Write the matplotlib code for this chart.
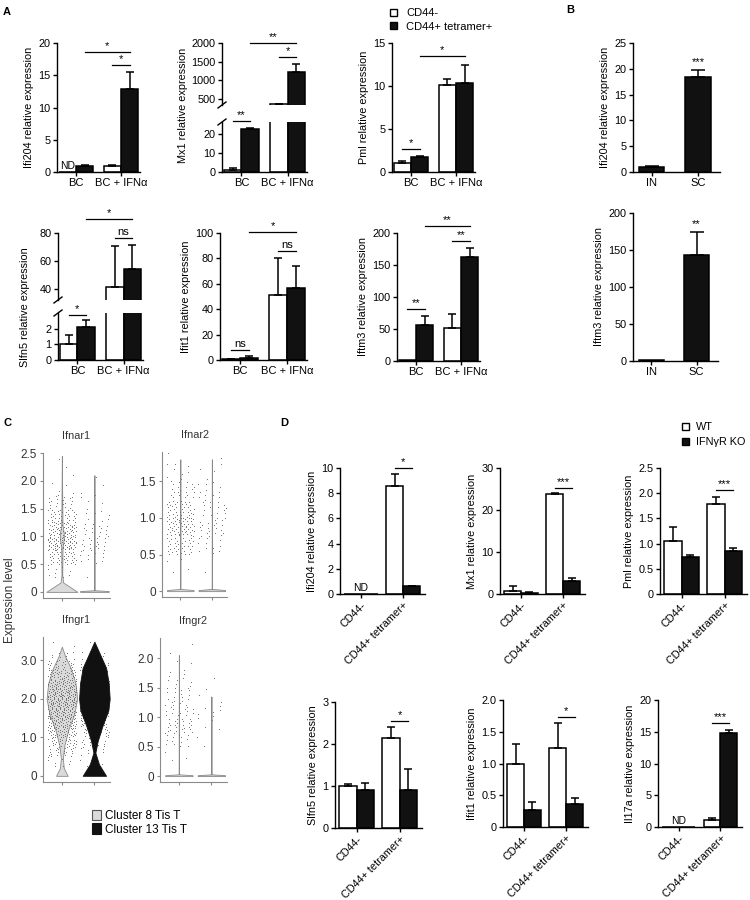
import numpy as np
import matplotlib
matplotlib.use("Agg")
import matplotlib.pyplot as plt
from matplotlib.patches import Patch

plt.rcParams["font.family"] = ["Liberation Sans", "DejaVu Sans"]
plt.rcParams["axes.linewidth"] = 1.0

# ---------------- data ----------------
# panel A: open = CD44-, filled = CD44+ tetramer+
a_groups = ["BC", "BC + IFNα"]

a_ifi204_open = [0.0, 1.0]
a_ifi204_open_err = [0.0, 0.1]
a_ifi204_fill = [1.0, 12.8]
a_ifi204_fill_err = [0.1, 2.7]

a_mx1_open = [0.8, 360.0]
a_mx1_open_err = [1.2, 10.0]
a_mx1_fill = [22.5, 1220.0]
a_mx1_fill_err = [0.3, 220.0]

a_pml_open = [1.0, 10.1]
a_pml_open_err = [0.3, 0.7]
a_pml_fill = [1.7, 10.3]
a_pml_fill_err = [0.2, 2.2]

a_slfn5_open = [1.0, 41.0]
a_slfn5_open_err = [0.6, 30.0]
a_slfn5_fill = [2.1, 54.0]
a_slfn5_fill_err = [0.45, 17.5]

a_ifit1_open = [0.5, 51.0]
a_ifit1_open_err = [0.5, 29.0]
a_ifit1_fill = [1.5, 57.0]
a_ifit1_fill_err = [2.0, 17.0]

a_iftm3_open = [1.0, 52.0]
a_iftm3_open_err = [0.0, 22.0]
a_iftm3_fill = [57.0, 163.0]
a_iftm3_fill_err = [13.0, 14.0]

# significance: (group, series), (group, series), y, label
a_ifi204_sig = [((1, 0), (1, 1), 16.6, "*"), ((0, 1), (1, 1), 18.6, "*")]
a_mx1_sig_low = [((0, 0), (0, 1), 26.5, "**")]
a_mx1_sig_up = [((1, 0), (1, 1), 1625, "*"), ((0, 1), (1, 1), 2010, "**")]
a_pml_sig = [((0, 0), (0, 1), 2.7, "*"), ((0, 1), (1, 1), 13.5, "*")]
a_slfn5_sig_low = [((0, 0), (0, 1), 2.9, "*")]
a_slfn5_sig_up = [((1, 0), (1, 1), 76.4, "ns"), ((0, 1), (1, 1), 90.0, "*")]
a_ifit1_sig = [((0, 0), (0, 1), 7.9, "ns"), ((1, 0), (1, 1), 86.0, "ns"),
               ((0, 1), (1, 1), 101.0, "*")]
a_iftm3_sig = [((0, 0), (0, 1), 81.0, "**"), ((1, 0), (1, 1), 187.5, "**"),
               ((0, 1), (1, 1), 211.0, "**")]

# panel B
b_groups = ["IN", "SC"]
b_ifi204 = [1.0, 18.5]
b_ifi204_err = [0.2, 1.3]
b_iftm3 = [2.0, 143.0]
b_iftm3_err = [0.0, 31.0]
b_ifi204_star = (1, 20.3, "***")
b_iftm3_star = (1, 178.0, "**")

# panel C: violin outlines (expression level, half width) and dot counts per 0.25 bin from 0.25
c_ifnar1_c8_lv = [0, 0.17, 0.3, 0.8, 0.95, 1.05, 1.2, 1.7, 2.45]
c_ifnar1_c8_hw = [0.48, 0.04, 0.012, 0.02, 0.06, 0.06, 0.02, 0.01, 0.0]
c_ifnar1_c13_lv = [0, 0.015, 0.03, 2.1]
c_ifnar1_c13_hw = [0.44, 0.44, 0.006, 0.0]
c_ifnar2_c8_lv = [0, 0.015, 0.03, 1.8]
c_ifnar2_c8_hw = [0.42, 0.42, 0.006, 0.0]
c_ifnar2_c13_lv = [0, 0.015, 0.03, 1.8]
c_ifnar2_c13_hw = [0.42, 0.42, 0.006, 0.0]
c_ifngr1_c8_lv = [0, 0.2, 0.45, 0.8, 1.2, 1.6, 2.0, 2.4, 2.8, 3.1, 3.35]
c_ifngr1_c8_hw = [0.18, 0.06, 0.03, 0.08, 0.2, 0.38, 0.47, 0.42, 0.27, 0.1, 0.0]
c_ifngr1_c13_lv = [0, 0.3, 0.6, 0.9, 1.3, 1.7, 2.0, 2.4, 2.8, 3.1, 3.48]
c_ifngr1_c13_hw = [0.36, 0.14, 0.03, 0.1, 0.25, 0.43, 0.47, 0.44, 0.36, 0.2, 0.0]
c_ifngr2_c8_lv = [0, 0.015, 0.03, 2.05]
c_ifngr2_c8_hw = [0.42, 0.42, 0.006, 0.0]
c_ifngr2_c13_lv = [0, 0.015, 0.03, 1.35]
c_ifngr2_c13_hw = [0.42, 0.42, 0.006, 0.0]

c_ifnar1_c8_n = [10, 40, 70, 55, 35, 20, 4, 2, 1]
c_ifnar1_c13_n = [1, 10, 18, 15, 10, 4, 2, 1, 0]
c_ifnar2_c8_n = [4, 35, 55, 40, 22, 8, 1]
c_ifnar2_c13_n = [1, 12, 20, 18, 12, 4, 1]
c_ifngr1_c8_n = [8, 20, 32, 45, 55, 65, 70, 68, 58, 42, 25, 10, 2]
c_ifngr1_c13_n = [3, 8, 15, 25, 35, 45, 50, 48, 40, 30, 18, 8, 2]
c_ifngr2_c8_n = [3, 15, 25, 20, 15, 8, 4, 2]
c_ifngr2_c13_n = [0, 2, 4, 6, 3, 1, 0, 0]

# panel D: open = WT, filled = IFNγR KO
d_groups = ["CD44-", "CD44+ tetramer+"]
d_ifi204_wt = [0.0, 8.6]
d_ifi204_wt_err = [0.0, 0.9]
d_ifi204_ko = [0.0, 0.6]
d_ifi204_ko_err = [0.0, 0.05]
d_mx1_wt = [0.8, 23.8]
d_mx1_wt_err = [1.2, 0.15]
d_mx1_ko = [0.3, 3.2]
d_mx1_ko_err = [0.2, 0.5]
d_pml_wt = [1.05, 1.78]
d_pml_wt_err = [0.28, 0.15]
d_pml_ko = [0.73, 0.86]
d_pml_ko_err = [0.05, 0.05]
d_slfn5_wt = [1.0, 2.15]
d_slfn5_wt_err = [0.04, 0.26]
d_slfn5_ko = [0.9, 0.9]
d_slfn5_ko_err = [0.18, 0.5]
d_ifit1_wt = [1.0, 1.25]
d_ifit1_wt_err = [0.31, 0.38]
d_ifit1_ko = [0.27, 0.36]
d_ifit1_ko_err = [0.13, 0.09]
d_il17a_wt = [0.0, 1.1]
d_il17a_wt_err = [0.0, 0.3]
d_il17a_ko = [0.0, 14.8]
d_il17a_ko_err = [0.0, 0.5]

d_ifi204_sig = [((1, 0), (1, 1), 10.0, "*")]
d_mx1_sig = [((1, 0), (1, 1), 25.2, "***")]
d_pml_sig = [((1, 0), (1, 1), 2.06, "***")]
d_slfn5_sig = [((1, 0), (1, 1), 2.55, "*")]
d_ifit1_sig = [((1, 0), (1, 1), 1.73, "*")]
d_il17a_sig = [((1, 0), (1, 1), 16.4, "***")]

# ---------------- helpers ----------------
W, H = 750, 900
fig = plt.figure(figsize=(7.5, 9), dpi=100)
BLACK = "#111111"
YLAB = 7.8


def rect(x0, y0, x1, y1):
    return [x0 / W, 1 - y1 / H, (x1 - x0) / W, (y1 - y0) / H]


def style(ax, ylim, yticks, ylabel=None, lsize=7.8):
    for s in ["top", "right"]:
        ax.spines[s].set_visible(False)
    ax.set_ylim(*ylim)
    ax.set_yticks(yticks)
    ax.tick_params(direction="out", length=3, width=1.0, labelsize=lsize, pad=1.5)
    if ylabel:
        ax.set_ylabel(ylabel, fontsize=YLAB, labelpad=3)


def xpos(g, s, w):
    if s is None:
        return g
    return g + (s - 0.5) * w


def bars2(ax, v_open, e_open, v_fill, e_fill, w):
    pos = np.arange(len(v_open))
    for s, (v, e, fc) in enumerate([(v_open, e_open, "white"), (v_fill, e_fill, BLACK)]):
        x = pos + (s - 0.5) * w
        v = np.asarray(v, float)
        e = np.asarray(e, float)
        ax.bar(x, v, w, color=fc, edgecolor="black", linewidth=1.1, zorder=2)
        m = e > 0
        if m.any():
            ax.errorbar(x[m], v[m], yerr=[np.zeros(m.sum()), e[m]], fmt="none",
                        ecolor="black", elinewidth=1.1, capsize=3, capthick=1.1, zorder=3)


def bars1(ax, v, e, w):
    pos = np.arange(len(v))
    v = np.asarray(v, float)
    e = np.asarray(e, float)
    ax.bar(pos, v, w, color=BLACK, edgecolor="black", linewidth=1.1, zorder=2)
    m = e > 0
    ax.errorbar(pos[m], v[m], yerr=[np.zeros(m.sum()), e[m]], fmt="none",
                ecolor="black", elinewidth=1.1, capsize=5, capthick=1.1, zorder=3)


def sig(ax, items, w):
    for a, b, y, lab in items:
        x1, x2 = xpos(a[0], a[1], w), xpos(b[0], b[1], w)
        ax.plot([x1, x2], [y, y], color="black", lw=0.9, clip_on=False)
        ax.annotate(lab, ((x1 + x2) / 2, y), xytext=(0, 0.5), textcoords="offset points",
                    ha="center", va="bottom", fontsize=8, annotation_clip=False)


def nd(ax, x, y=0):
    ax.annotate("ND", (x, y), xytext=(0, 1), textcoords="offset points",
                ha="center", va="bottom", fontsize=7.5)


def breakmark(ax, where):
    bb = ax.get_position()
    dx = 4 / (bb.width * W)
    dy = 3 / (bb.height * H)
    y0 = 0 if where == "bottom" else 1
    ax.plot([-dx, dx], [y0 - dy, y0 + dy], transform=ax.transAxes, color="black",
            lw=1.0, clip_on=False)


# ---------------- panel A ----------------
wa = 0.38
xla = (-0.42, 1.42)

ax = fig.add_axes(rect(57, 43, 140, 172))
bars2(ax, a_ifi204_open, a_ifi204_open_err, a_ifi204_fill, a_ifi204_fill_err, wa)
style(ax, (0, 20), [0, 5, 10, 15, 20], "Ifi204 relative expression")
ax.set_xlim(*xla)
ax.set_xticks(range(2), a_groups, fontsize=8)
sig(ax, a_ifi204_sig, wa)
nd(ax, xpos(0, 0, wa))

# Mx1 broken axis
axu = fig.add_axes(rect(222, 43, 307, 105))
axl = fig.add_axes(rect(222, 122, 307, 172))
for a_ in (axu, axl):
    bars2(a_, a_mx1_open, a_mx1_open_err, a_mx1_fill, a_mx1_fill_err, wa)
    a_.set_xlim(*xla)
style(axu, (330, 2000), [500, 1000, 1500, 2000])
style(axl, (0, 26), [0, 10, 20])
axu.spines["bottom"].set_visible(False)
axu.set_xticks([])
axl.set_xticks(range(2), a_groups, fontsize=8)
axu.set_ylabel("Mx1 relative expression", fontsize=YLAB)
axu.yaxis.set_label_coords(-0.4, 0.0)
breakmark(axu, "bottom")
breakmark(axl, "top")
sig(axl, a_mx1_sig_low, wa)
sig(axu, a_mx1_sig_up, wa)

ax = fig.add_axes(rect(392, 43, 475, 172))
bars2(ax, a_pml_open, a_pml_open_err, a_pml_fill, a_pml_fill_err, wa)
style(ax, (0, 15), [0, 5, 10, 15], "Pml relative expression")
ax.set_xlim(*xla)
ax.set_xticks(range(2), a_groups, fontsize=8)
sig(ax, a_pml_sig, wa)

# Slfn5 broken axis
axu = fig.add_axes(rect(58, 233, 143, 300))
axl = fig.add_axes(rect(58, 313, 143, 360))
for a_ in (axu, axl):
    bars2(a_, a_slfn5_open, a_slfn5_open_err, a_slfn5_fill, a_slfn5_fill_err, wa)
    a_.set_xlim(*xla)
style(axu, (32, 80), [40, 60, 80])
style(axl, (0, 3.0), [0, 1, 2])
axu.spines["bottom"].set_visible(False)
axu.set_xticks([])
axl.set_xticks(range(2), a_groups, fontsize=8)
axu.set_ylabel("Slfn5 relative expression", fontsize=YLAB)
axu.yaxis.set_label_coords(-0.33, -0.1)
breakmark(axu, "bottom")
breakmark(axl, "top")
sig(axl, a_slfn5_sig_low, wa)
sig(axu, a_slfn5_sig_up, wa)

ax = fig.add_axes(rect(220, 233, 307, 360))
bars2(ax, a_ifit1_open, a_ifit1_open_err, a_ifit1_fill, a_ifit1_fill_err, wa)
style(ax, (0, 100), [0, 20, 40, 60, 80, 100], "Ifit1 relative expression")
ax.set_xlim(*xla)
ax.set_xticks(range(2), a_groups, fontsize=8)
sig(ax, a_ifit1_sig, wa)

ax = fig.add_axes(rect(397, 233, 480, 361))
bars2(ax, a_iftm3_open, a_iftm3_open_err, a_iftm3_fill, a_iftm3_fill_err, wa)
style(ax, (0, 200), [0, 50, 100, 150, 200], "Iftm3 relative expression")
ax.set_xlim(*xla)
ax.set_xticks(range(2), a_groups, fontsize=8)
sig(ax, a_iftm3_sig, wa)

fig.legend([Patch(facecolor="white", edgecolor="black", lw=1.0),
            Patch(facecolor=BLACK, edgecolor="black", lw=1.0)],
           ["CD44-", "CD44+ tetramer+"], loc="upper left",
           bbox_to_anchor=(386 / W, 1 - 4 / H), frameon=False, fontsize=8,
           handlelength=0.6, handleheight=0.6, handletextpad=0.8, labelspacing=0.3,
           borderaxespad=0)

# ---------------- panel B ----------------
wb = 0.55
ax = fig.add_axes(rect(633, 43, 720, 172))
bars1(ax, b_ifi204, b_ifi204_err, wb)
style(ax, (0, 25), [0, 5, 10, 15, 20, 25], "Ifi204 relative expression")
ax.set_xlim(-0.4, 1.47)
ax.set_xticks(range(2), b_groups, fontsize=8)
ax.text(b_ifi204_star[0], b_ifi204_star[1], b_ifi204_star[2], ha="center", va="bottom", fontsize=8)

ax = fig.add_axes(rect(633, 213, 718, 361))
bars1(ax, b_iftm3, b_iftm3_err, wb)
style(ax, (0, 200), [0, 50, 100, 150, 200], "Iftm3 relative expression")
ax.set_xlim(-0.4, 1.47)
ax.set_xticks(range(2), b_groups, fontsize=8)
ax.text(b_iftm3_star[0], b_iftm3_star[1], b_iftm3_star[2], ha="center", va="bottom", fontsize=8)

# ---------------- panel C ----------------
GREY_FILL = "#dadada"
a1, a2 = 0.7548776662, 0.5698402910


def cloud(ax, center, counts, z):
    xs, ys = [], []
    k = 0
    for i, n in enumerate(counts):
        lo = 0.25 * (i + 1)
        for j in range(n):
            k += 1
            xs.append(center + 0.44 * (2 * ((0.5 + a1 * k) % 1) - 1))
            ys.append(lo + 0.25 * ((0.5 + a2 * k) % 1))
    ax.scatter(xs, ys, s=0.5, color="#707070", linewidths=0, zorder=z)


c_panels = [
    ("Ifnar1", (43, 453, 110, 598), (-0.11, 2.5), [0, 0.5, 1.0, 1.5, 2.0, 2.5],
     (c_ifnar1_c8_lv, c_ifnar1_c8_hw, c_ifnar1_c8_n),
     (c_ifnar1_c13_lv, c_ifnar1_c13_hw, c_ifnar1_c13_n), "#cfcfcf", "#888888"),
    ("Ifnar2", (162, 452, 227, 597), (-0.08, 1.9), [0, 0.5, 1.0, 1.5],
     (c_ifnar2_c8_lv, c_ifnar2_c8_hw, c_ifnar2_c8_n),
     (c_ifnar2_c13_lv, c_ifnar2_c13_hw, c_ifnar2_c13_n), "#cfcfcf", "#888888"),
    ("Ifngr1", (43, 637, 110, 782), (-0.16, 3.6), [0, 1.0, 2.0, 3.0],
     (c_ifngr1_c8_lv, c_ifngr1_c8_hw, c_ifngr1_c8_n),
     (c_ifngr1_c13_lv, c_ifngr1_c13_hw, c_ifngr1_c13_n), BLACK, BLACK),
    ("Ifngr2", (160, 638, 227, 782), (-0.1, 2.34), [0, 0.5, 1.0, 1.5, 2.0],
     (c_ifngr2_c8_lv, c_ifngr2_c8_hw, c_ifngr2_c8_n),
     (c_ifngr2_c13_lv, c_ifngr2_c13_hw, c_ifngr2_c13_n), "#cfcfcf", "#888888"),
]

for name, r, ylim, yt, v8, v13, fc13, ec13 in c_panels:
    ax = fig.add_axes(rect(*r))
    lv, hw, n = v8
    lv, hw = np.asarray(lv), np.asarray(hw)
    ax.fill_betweenx(lv, 1 - hw, 1 + hw, facecolor=GREY_FILL, edgecolor="#8a8a8a",
                     linewidth=0.6, zorder=2)
    cloud(ax, 1, n, 3)
    lv, hw, n = v13
    lv, hw = np.asarray(lv), np.asarray(hw)
    cloud(ax, 2, n, 1)
    ax.fill_betweenx(lv, 2 - hw, 2 + hw, facecolor=fc13, edgecolor=ec13,
                     linewidth=0.6, zorder=2)
    for s in ["top", "right"]:
        ax.spines[s].set_visible(False)
    for s in ["left", "bottom"]:
        ax.spines[s].set_color("#8a8a8a")
        ax.spines[s].set_linewidth(0.8)
    ax.set_xlim(0.42, 2.48)
    ax.set_ylim(*ylim)
    ax.set_yticks(yt, ["0" if t == 0 else f"{t:.1f}" for t in yt])
    ax.set_xticks([1, 2], ["", ""])
    ax.tick_params(direction="out", length=2.5, width=0.8, color="#8a8a8a",
                   labelsize=8.5, labelcolor="#333333", pad=2)
    ax.set_title(name, fontsize=7.8, color="#333333", pad=10)

fig.text(10 / W, 1 - 600 / H, "Expression level", rotation=90, ha="center", va="center",
         fontsize=8.5, color="#333333")
fig.legend([Patch(facecolor=GREY_FILL, edgecolor="#555555", lw=0.8),
            Patch(facecolor=BLACK, edgecolor=BLACK, lw=0.8)],
           ["Cluster 8 Tis T", "Cluster 13 Tis T"], loc="upper left",
           bbox_to_anchor=(87 / W, 1 - 805 / H), frameon=False, fontsize=8.5,
           handlelength=0.8, handleheight=1.0, handletextpad=0.3, labelspacing=0.1,
           borderaxespad=0)

# ---------------- panel D ----------------
wd = 0.4
xld = (-0.5, 1.52)
d_panels = [
    ((340, 468, 425, 594), d_ifi204_wt, d_ifi204_wt_err, d_ifi204_ko, d_ifi204_ko_err,
     (0, 10), [0, 2, 4, 6, 8, 10], "Ifi204 relative expression", d_ifi204_sig, True),
    ((500, 468, 585, 594), d_mx1_wt, d_mx1_wt_err, d_mx1_ko, d_mx1_ko_err,
     (0, 30), [0, 10, 20, 30], "Mx1 relative expression", d_mx1_sig, False),
    ((660, 468, 747, 594), d_pml_wt, d_pml_wt_err, d_pml_ko, d_pml_ko_err,
     (0, 2.5), [0, 0.5, 1.0, 1.5, 2.0, 2.5], "Pml relative expression", d_pml_sig, False),
    ((335, 702, 422, 828), d_slfn5_wt, d_slfn5_wt_err, d_slfn5_ko, d_slfn5_ko_err,
     (0, 3), [0, 1, 2, 3], "Slfn5 relative expression", d_slfn5_sig, False),
    ((503, 700, 588, 827), d_ifit1_wt, d_ifit1_wt_err, d_ifit1_ko, d_ifit1_ko_err,
     (0, 2), [0, 0.5, 1.0, 1.5, 2.0], "Ifit1 relative expression", d_ifit1_sig, False),
    ((658, 700, 742, 827), d_il17a_wt, d_il17a_wt_err, d_il17a_ko, d_il17a_ko_err,
     (0, 20), [0, 5, 10, 15, 20], "Il17a relative expression", d_il17a_sig, True),
]
for r, wt, wte, ko, koe, ylim, yt, yl, sg, has_nd in d_panels:
    ax = fig.add_axes(rect(*r))
    bars2(ax, wt, wte, ko, koe, wd)
    style(ax, ylim, yt, yl)
    if isinstance(yt[1], float):
        ax.set_yticks(yt, ["0" if t == 0 else f"{t:.1f}" for t in yt])
    ax.set_xlim(*xld)
    ax.set_xticks(range(2), d_groups, fontsize=7.8, rotation=45, ha="right",
                  rotation_mode="anchor")
    sig(ax, sg, wd)
    if has_nd:
        nd(ax, 0)

fig.legend([Patch(facecolor="white", edgecolor="black", lw=1.0),
            Patch(facecolor=BLACK, edgecolor="black", lw=1.0)],
           ["WT", "IFNγR KO"], loc="upper left",
           bbox_to_anchor=(678 / W, 1 - 418 / H), frameon=False, fontsize=7.8,
           handlelength=0.6, handleheight=0.6, handletextpad=0.7, labelspacing=0.45,
           borderaxespad=0)

# panel letters
for lab, x, y in [("A", 3, 12), ("B", 566, 10), ("C", 3, 423), ("D", 280, 423)]:
    fig.text(x / W, 1 - y / H, lab, fontsize=8, fontweight="bold", va="center")

fig.savefig("out.png", dpi=100)
